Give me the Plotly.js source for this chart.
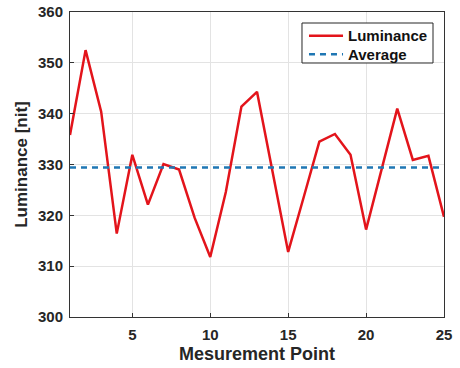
<!DOCTYPE html>
<html><head><meta charset="utf-8">
<script src="https://cdn.plot.ly/plotly-3.0.1.min.js"></script>
<style>body{margin:0;background:#fff}#c{width:460px;height:368px}</style>
</head><body><div id="c"></div>
<script>
const points = [1,2,3,4,5,6,7,8,9,10,11,12,13,14,15,16,17,18,19,20,21,22,23,24,25];
const luminance = [335.8,352.5,340.4,316.4,331.9,322.1,330.1,329.0,319.5,311.8,324.6,341.4,344.3,328.6,312.8,323.6,334.5,336.0,331.9,317.2,329.0,341.0,330.9,331.7,319.7];
const averageValue = 329.4;
const avgX = [1, 25];
const avgY = [averageValue, averageValue];
const xTicks = [5,10,15,20,25];
const yTicks = [300,310,320,330,340,350,360];
const seriesNames = ['Luminance', 'Average'];

const fam = 'Liberation Sans, Arial, sans-serif';
const red = '#e3141b', blue = '#1f77b4';
const traces = [
 {x:points, y:luminance, type:'scatter', mode:'lines', name:seriesNames[0], showlegend:false,
  line:{color:red, width:2.5}},
 {x:avgX, y:avgY, type:'scatter', mode:'lines', name:seriesNames[1], showlegend:false,
  line:{color:blue, width:2.5, dash:'6px,5px'}}
];
const axisCommon = {showline:true, mirror:true, linecolor:'#333', linewidth:1,
  showgrid:true, gridcolor:'#e3e3e3', gridwidth:1, zeroline:false,
  ticks:'inside', ticklen:4, tickcolor:'#333',
  tickfont:{family:fam, size:15, color:'#262626', weight:'bold'}};

// legend box (paper coordinates of the plot area)
const lg = {x0:0.6203, x1:0.9706, y0:0.8328, y1:0.9639, sx0:0.639, sx1:0.730, tx:0.738, rows:[0.9223, 0.8613]};
const legendShapes = [
 {type:'rect', xref:'paper', yref:'paper', x0:lg.x0, x1:lg.x1, y0:lg.y0, y1:lg.y1,
  fillcolor:'#fff', line:{color:'#262626', width:1}, layer:'above'},
 {type:'line', xref:'paper', yref:'paper', x0:lg.sx0, x1:lg.sx1, y0:lg.rows[0], y1:lg.rows[0],
  line:{color:red, width:2.5}, layer:'above'},
 {type:'line', xref:'paper', yref:'paper', x0:lg.sx0, x1:lg.sx1, y0:lg.rows[1], y1:lg.rows[1],
  line:{color:blue, width:2.5, dash:'6px,5px'}, layer:'above'}
];
const legendText = seriesNames.map((n, i) => ({
  xref:'paper', yref:'paper', x:lg.tx, y:lg.rows[i], xanchor:'left', yanchor:'middle',
  text:'<b>' + n + '</b>', showarrow:false, font:{family:fam, size:15, color:'#111'}
}));

const layout = {
 width:460, height:368,
 margin:{l:70, r:16, t:12, b:51},
 paper_bgcolor:'#fff', plot_bgcolor:'#fff',
 showlegend:false,
 shapes:legendShapes,
 annotations:legendText,
 xaxis:Object.assign({}, axisCommon, {range:[1,25], tickvals:xTicks, ticklabelstandoff:4,
   title:{text:'<b>Mesurement Point</b>', font:{family:fam, size:18, color:'#262626'}, standoff:5}}),
 yaxis:Object.assign({}, axisCommon, {range:[300,360], tickvals:yTicks, ticklabelstandoff:3,
   title:{text:'<b>Luminance [nit]</b>', font:{family:fam, size:17, color:'#262626'}, standoff:6}})
};
Plotly.newPlot('c', traces, layout, {staticPlot:true});
</script></body></html>
